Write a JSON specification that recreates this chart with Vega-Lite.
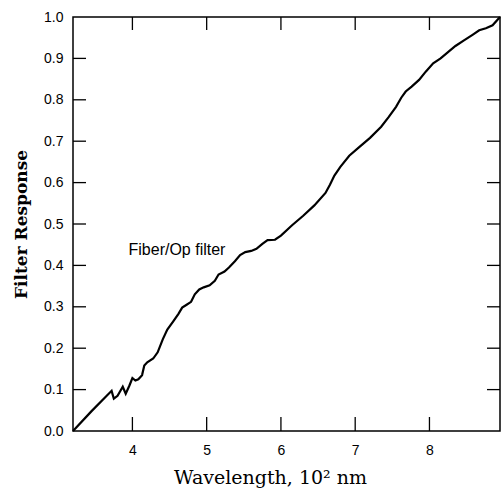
{
  "$schema": "https://vega.github.io/schema/vega-lite/v6.json",
  "width": 427,
  "height": 414,
  "autosize": {"type": "none"},
  "padding": {"left": 73, "top": 17, "right": 1, "bottom": 62},
  "background": "#ffffff",
  "config": {
    "view": {"stroke": "#000000", "strokeWidth": 1.5, "fill": null},
    "axis": {
      "domain": false,
      "grid": false,
      "ticks": false,
      "labelColor": "#000000",
      "labelFont": "Liberation Sans",
      "labelFontSize": 14,
      "titleColor": "#000000"
    }
  },
  "datasets": {
    "curve": [
      {"w": 3.2, "r": 0.0}, {"w": 3.45, "r": 0.048}, {"w": 3.72, "r": 0.097},
      {"w": 3.75, "r": 0.078}, {"w": 3.8, "r": 0.085}, {"w": 3.87, "r": 0.107},
      {"w": 3.91, "r": 0.09}, {"w": 3.96, "r": 0.11}, {"w": 4.0, "r": 0.128},
      {"w": 4.04, "r": 0.122}, {"w": 4.08, "r": 0.125}, {"w": 4.13, "r": 0.135},
      {"w": 4.16, "r": 0.158}, {"w": 4.2, "r": 0.166}, {"w": 4.28, "r": 0.175},
      {"w": 4.34, "r": 0.19}, {"w": 4.41, "r": 0.222}, {"w": 4.47, "r": 0.245},
      {"w": 4.55, "r": 0.265}, {"w": 4.62, "r": 0.283}, {"w": 4.67, "r": 0.298},
      {"w": 4.73, "r": 0.305}, {"w": 4.79, "r": 0.312}, {"w": 4.84, "r": 0.33},
      {"w": 4.9, "r": 0.342}, {"w": 4.96, "r": 0.347}, {"w": 5.04, "r": 0.352},
      {"w": 5.11, "r": 0.363}, {"w": 5.16, "r": 0.378}, {"w": 5.24, "r": 0.385},
      {"w": 5.3, "r": 0.395}, {"w": 5.38, "r": 0.41}, {"w": 5.45, "r": 0.425},
      {"w": 5.52, "r": 0.432}, {"w": 5.6, "r": 0.435}, {"w": 5.67, "r": 0.44},
      {"w": 5.75, "r": 0.452}, {"w": 5.82, "r": 0.461}, {"w": 5.92, "r": 0.462},
      {"w": 6.0, "r": 0.472}, {"w": 6.15, "r": 0.497}, {"w": 6.3, "r": 0.52},
      {"w": 6.45, "r": 0.545}, {"w": 6.6, "r": 0.575}, {"w": 6.66, "r": 0.595},
      {"w": 6.72, "r": 0.617}, {"w": 6.8, "r": 0.638}, {"w": 6.92, "r": 0.665},
      {"w": 7.05, "r": 0.685}, {"w": 7.2, "r": 0.708}, {"w": 7.35, "r": 0.735},
      {"w": 7.45, "r": 0.758}, {"w": 7.55, "r": 0.783}, {"w": 7.62, "r": 0.805},
      {"w": 7.68, "r": 0.82}, {"w": 7.76, "r": 0.832}, {"w": 7.86, "r": 0.848},
      {"w": 7.95, "r": 0.868}, {"w": 8.05, "r": 0.888}, {"w": 8.15, "r": 0.9},
      {"w": 8.25, "r": 0.915}, {"w": 8.35, "r": 0.93}, {"w": 8.47, "r": 0.944},
      {"w": 8.58, "r": 0.957}, {"w": 8.67, "r": 0.968}, {"w": 8.76, "r": 0.973},
      {"w": 8.85, "r": 0.98}, {"w": 8.95, "r": 1.0}
    ],
    "xticks": [{"t": 4}, {"t": 5}, {"t": 6}, {"t": 7}, {"t": 8}],
    "yticks": [{"v": 0.1}, {"v": 0.2}, {"v": 0.3}, {"v": 0.4}, {"v": 0.5}, {"v": 0.6}, {"v": 0.7}, {"v": 0.8}, {"v": 0.9}],
    "note": [{"lx": 4.6, "ly": 0.436, "label": "Fiber/Op filter"}]
  },
  "layer": [
    {
      "data": {"name": "curve"},
      "mark": {"type": "line", "color": "#000000", "strokeWidth": 2.2},
      "encoding": {
        "x": {
          "field": "w", "type": "quantitative",
          "scale": {"domain": [3.2, 8.95], "nice": false, "zero": false, "padding": 0},
          "axis": {
            "orient": "bottom", "values": [4, 5, 6, 7, 8], "format": "d",
            "labelPadding": 12,
            "title": "Wavelength, 10² nm",
            "titleFont": "DejaVu Serif", "titleFontSize": 19, "titleFontWeight": "normal",
            "titlePadding": 11, "titleX": 197, "titleAlign": "center"
          }
        },
        "y": {
          "field": "r", "type": "quantitative",
          "scale": {"domain": [0, 1], "nice": false, "zero": false, "padding": 0},
          "axis": {
            "orient": "left", "values": [0, 0.1, 0.2, 0.3, 0.4, 0.5, 0.6, 0.7, 0.8, 0.9, 1.0],
            "format": ".1f", "labelPadding": 10,
            "title": "Filter Response",
            "titleFont": "DejaVu Serif", "titleFontSize": 17, "titleFontWeight": "bold",
            "titlePadding": 13
          }
        }
      }
    },
    {
      "data": {"name": "xticks"},
      "mark": {"type": "tick", "color": "#000000", "orient": "vertical", "size": 28, "thickness": 1.3, "opacity": 1, "clip": true},
      "encoding": {
        "x": {"field": "t", "type": "quantitative"},
        "y": {"datum": 0}
      }
    },
    {
      "data": {"name": "xticks"},
      "mark": {"type": "tick", "color": "#000000", "orient": "vertical", "size": 26, "thickness": 1.3, "opacity": 1, "clip": true},
      "encoding": {
        "x": {"field": "t", "type": "quantitative"},
        "y": {"datum": 1}
      }
    },
    {
      "data": {"name": "yticks"},
      "mark": {"type": "tick", "color": "#000000", "orient": "horizontal", "size": 26, "thickness": 1.3, "opacity": 1, "clip": true},
      "encoding": {
        "y": {"field": "v", "type": "quantitative"},
        "x": {"datum": 3.2}
      }
    },
    {
      "data": {"name": "yticks"},
      "mark": {"type": "tick", "color": "#000000", "orient": "horizontal", "size": 26, "thickness": 1.3, "opacity": 1, "clip": true},
      "encoding": {
        "y": {"field": "v", "type": "quantitative"},
        "x": {"datum": 8.95}
      }
    },
    {
      "data": {"name": "note"},
      "mark": {"type": "text", "font": "Liberation Sans", "fontSize": 16, "color": "#000000", "align": "center", "baseline": "middle"},
      "encoding": {
        "x": {"field": "lx", "type": "quantitative"},
        "y": {"field": "ly", "type": "quantitative"},
        "text": {"field": "label"}
      }
    }
  ]
}
